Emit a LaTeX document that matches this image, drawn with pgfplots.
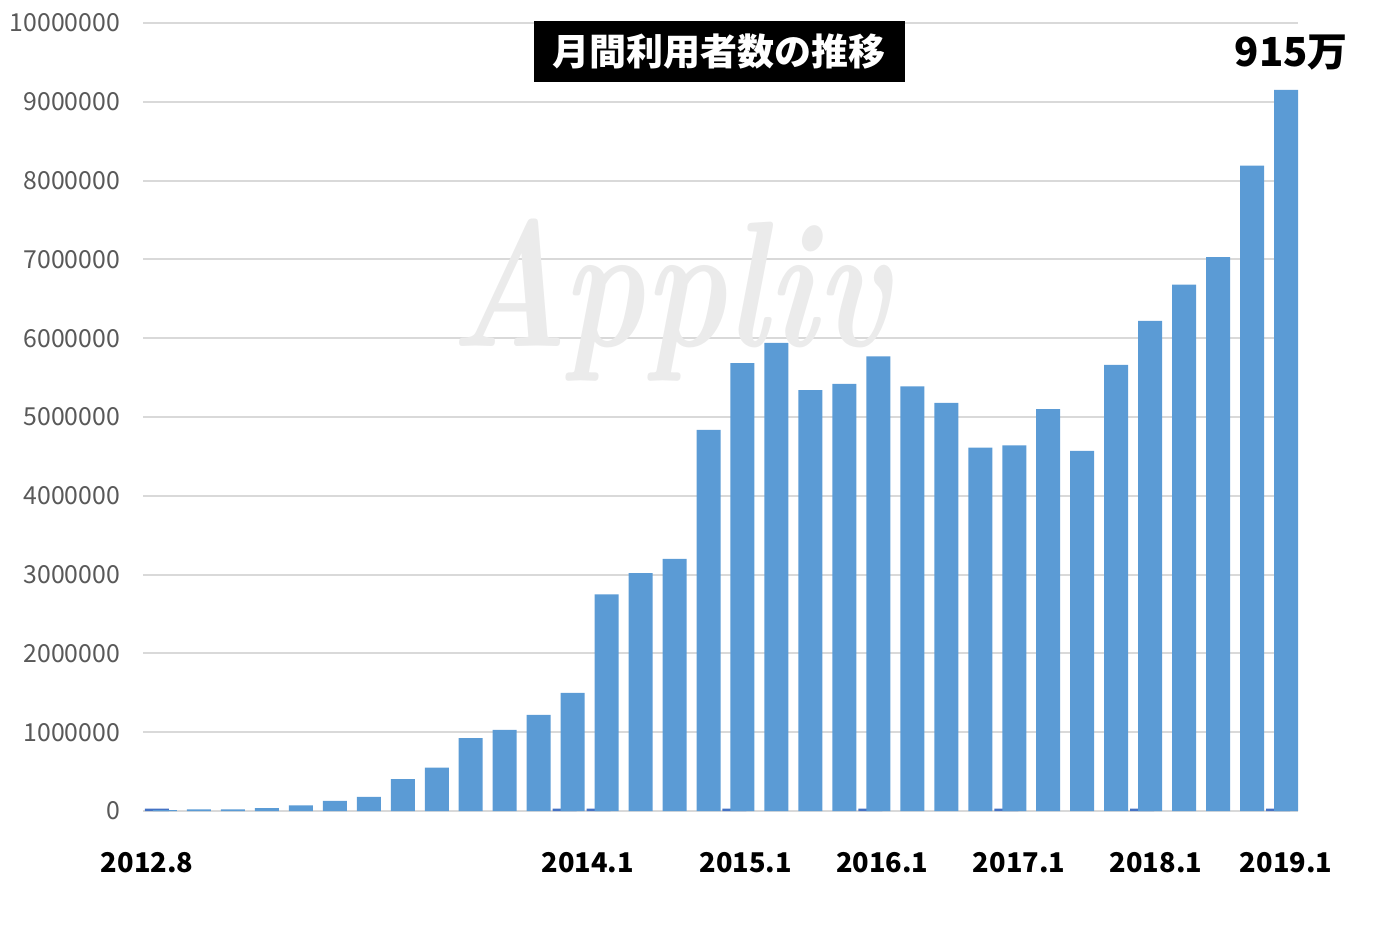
\documentclass[border=0pt]{standalone}
\usepackage{pgfplots}
\pgfplotsset{compat=1.18}
\usepackage{pgfplotstable}
\usepackage{fontspec}
\setmainfont{Noto Sans CJK JP}
\newfontfamily\wmfont{lmroman10-bolditalic.otf}
\definecolor{lightbar}{HTML}{5B9BD5}
\definecolor{darkbar}{HTML}{4472C4}
\definecolor{gridc}{HTML}{D9D9D9}
\definecolor{tickc}{HTML}{595959}
\definecolor{wm}{HTML}{EBEBEB}

\pgfplotstableread{
x users
0 12000
1 22000
2 20000
3 35000
4 70000
5 130000
6 180000
7 405000
8 550000
9 926000
10 1030000
11 1220000
12 1500000
13 2750000
14 3020000
15 3200000
16 4835000
17 5685000
18 5940000
19 5340000
20 5420000
21 5770000
22 5390000
23 5180000
24 4610000
25 4640000
26 5100000
27 4570000
28 5660000
29 6220000
30 6680000
31 7030000
32 8190000
33 9150000
}\usersdata

\pgfplotstableread{
x mark
0 30000
12 30000
13 30000
17 30000
21 30000
25 30000
29 30000
33 30000
}\markdata

\begin{document}
\begin{tikzpicture}
\begin{axis}[
  at={(0,0)}, anchor=south west,
  scale only axis, width=577.5pt, height=394pt,
  xmin=-0.5, xmax=33.5, ymin=0, ymax=10000000,
  axis line style={draw=none},
  ymajorgrids, grid style={gridc, line width=1pt},
  ytick={0,1000000,2000000,3000000,4000000,5000000,6000000,7000000,8000000,9000000,10000000},
  major tick length=0pt,
  scaled y ticks=false,
  /pgf/number format/assume math mode=true,
  /pgf/number format/fixed,
  /pgf/number format/1000 sep={},
  yticklabel style={font=\fontsize{12.4}{12.4}\selectfont, text=tickc, xshift=-8pt},
  xtick={-0.38,12.59,17.24,21.26,25.29,29.32,33.15},
  xticklabels={2012.8,2014.1,2015.1,2016.1,2017.1,2018.1,2019.1},
  xticklabel style={font=\bfseries\fontsize{13.6}{13.6}\selectfont, text=black, anchor=center, yshift=-26pt},
  clip=false,
  set layers,
]
\node[on layer=axis background, text=wm, font=\wmfont\fontsize{69}{69}\selectfont, yscale=1.3] at (axis cs:15.0,6480000) {Appliv};
\addplot[ybar, bar width=12pt, bar shift=-1.5pt, fill=darkbar, draw=none] table[x=x, y=mark] {\markdata};
\addplot[ybar, bar width=12pt, bar shift=2.5pt, fill=lightbar, draw=none] table[x=x, y=users] {\usersdata};
\node[fill=black, text=white, font=\bfseries\fontsize{18.5}{18.5}\selectfont, minimum width=185.5pt, minimum height=30.5pt, inner sep=0pt] at (axis cs:16.46,9640000) {月間利用者数の推移};
\node[text=black, font=\bfseries\fontsize{20}{20}\selectfont, inner sep=0pt] at (axis cs:33.3,9630000) {915万};
\end{axis}
\pgfresetboundingbox
\path (-71.5pt,-60pt) rectangle (615.5pt,405.5pt);
\end{tikzpicture}
\end{document}
